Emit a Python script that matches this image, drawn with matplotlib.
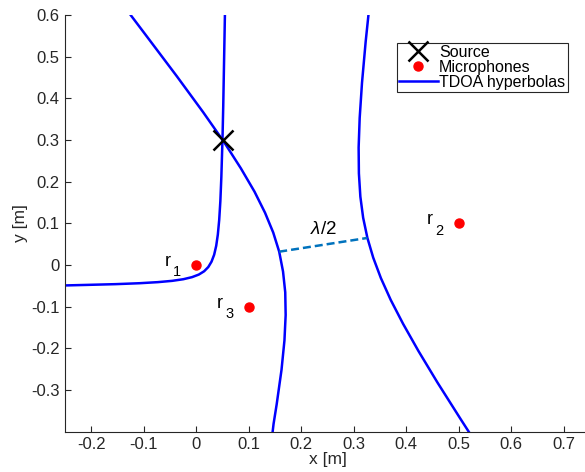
import matplotlib
matplotlib.use("Agg")
import matplotlib.pyplot as plt

plt.rcParams['font.family'] = ['Liberation Sans', 'DejaVu Sans']
plt.rcParams['mathtext.fontset'] = 'custom'
plt.rcParams['mathtext.rm'] = 'Liberation Sans'
plt.rcParams['mathtext.it'] = 'Liberation Sans:italic'

# ---- data ----
source_x = [0.05]
source_y = [0.30]

mic_x = [0.0, 0.5, 0.1]
mic_y = [0.0, 0.1, -0.1]
mic_labels = ['1', '2', '3']

# hyperbola r1-r3 (through source, wraps around r1)
hyp13_x = [0.0546, 0.0514, 0.0500, 0.0478, 0.0459, 0.0437, 0.0411, 0.0380, 0.0341,
           0.0291, 0.0229, 0.0150, 0.0049, -0.0081, -0.0247, -0.0460, -0.0733,
           -0.1084, -0.1534, -0.2112, -0.2500]
hyp13_y = [0.600, 0.381, 0.303, 0.211, 0.153, 0.108, 0.073, 0.046, 0.0247,
           0.0081, -0.0049, -0.0150, -0.0229, -0.0291, -0.0341, -0.0380, -0.0411,
           -0.0437, -0.0459, -0.0478, -0.0490]

# hyperbola r1-r2 (through source)
hyp12a_x = [-0.125, -0.098, -0.037, 0.013, 0.053, 0.085, 0.111, 0.131, 0.1466,
            0.158, 0.1653, 0.1695, 0.1703, 0.1680, 0.1624, 0.1532, 0.1473, 0.1455]
hyp12a_y = [0.600, 0.555, 0.453, 0.367, 0.295, 0.232, 0.176, 0.1255, 0.078,
            0.032, -0.0156, -0.0654, -0.1199, -0.181, -0.2516, -0.3342, -0.381, -0.400]

# hyperbola r1-r2 shifted by one wavelength
hyp12b_x = [0.328, 0.3227, 0.3157, 0.3113, 0.3093, 0.3098, 0.3126, 0.3179, 0.326,
            0.3371, 0.3517, 0.3704, 0.394, 0.4233, 0.4595, 0.5042, 0.519]
hyp12b_y = [0.600, 0.536, 0.437, 0.353, 0.282, 0.220, 0.164, 0.1135, 0.065,
            0.0176, -0.0314, -0.0837, -0.1412, -0.2065, -0.2821, -0.371, -0.400]

# lambda/2 spacing segment
lam_x = [0.158, 0.326]
lam_y = [0.032, 0.065]
lam_label = r'$\lambda$/2'

x_ticks = [-0.2, -0.1, 0, 0.1, 0.2, 0.3, 0.4, 0.5, 0.6, 0.7]
y_ticks = [-0.3, -0.2, -0.1, 0, 0.1, 0.2, 0.3, 0.4, 0.5, 0.6]

# ---- figure ----
fig = plt.figure(figsize=(5.85, 4.72), dpi=100)
W, H = 585.0, 472.0
ax = fig.add_axes([65 / W, (H - 431.7) / H, 525 / W, 416.7 / H])

blue = (0, 0, 1)
ax.plot(hyp13_x, hyp13_y, color=blue, lw=1.8, label='TDOA hyperbolas', zorder=2)
ax.plot(hyp12a_x, hyp12a_y, color=blue, lw=1.8, zorder=2)
ax.plot(hyp12b_x, hyp12b_y, color=blue, lw=1.8, zorder=2)

ax.plot(lam_x, lam_y, color='#0072BD', lw=1.8, linestyle=(0, (3.2, 1.6)), zorder=2)
ax.text((lam_x[0] + lam_x[1]) / 2, (lam_y[0] + lam_y[1]) / 2 + 0.036, lam_label,
        ha='center', va='center', fontsize=13.5, color='black')

ax.plot(mic_x, mic_y, linestyle='none', marker='o', markersize=6.5,
        markerfacecolor='red', markeredgecolor='red', label='Microphones', zorder=3)
for mx, my, lab in zip(mic_x, mic_y, mic_labels):
    ax.text(mx - 0.06, my - 0.0024, 'r', ha='left', va='baseline', fontsize=13)
    ax.annotate(lab, xy=(mx - 0.06, my - 0.0024), xytext=(6.0, -7.4),
                textcoords='offset points', ha='left', va='baseline', fontsize=10.5)

ax.plot(source_x, source_y, linestyle='none', marker='x', markersize=15,
        markeredgewidth=1.8, color='black', label='Source', zorder=4)

ax.set_xlim(-0.25, 0.75)
ax.set_ylim(-0.4, 0.6)
ax.set_xticks(x_ticks)
ax.set_yticks(y_ticks)
ax.set_xticklabels([('%g' % v) for v in x_ticks])
ax.set_yticklabels([('%g' % v) for v in y_ticks])

dark = '#262626'
for s in ['top', 'right']:
    ax.spines[s].set_visible(False)
for s in ['left', 'bottom']:
    ax.spines[s].set_color(dark)
    ax.spines[s].set_linewidth(0.8)
ax.tick_params(direction='in', length=4, width=0.8, color=dark, labelcolor=dark,
               labelsize=12)
ax.tick_params(axis='x', pad=3.5)
ax.tick_params(axis='y', pad=4)

ax.set_xlabel('x [m]', fontsize=12.5, color=dark, labelpad=0)
ax.set_ylabel('y [m]', fontsize=12.5, color=dark, labelpad=2)

handles, labels = ax.get_legend_handles_labels()
order = [labels.index('Source'), labels.index('Microphones'), labels.index('TDOA hyperbolas')]
leg = ax.legend([handles[i] for i in order], [labels[i] for i in order],
                loc='upper left', bbox_to_anchor=(0.632, 0.934), borderaxespad=0,
                fontsize=11.5, labelspacing=0.0, handlelength=2.4, handletextpad=0.1,
                borderpad=0.15, fancybox=False, framealpha=1, edgecolor=dark)
leg.get_frame().set_linewidth(0.8)

fig.savefig('out.png', dpi=100)
